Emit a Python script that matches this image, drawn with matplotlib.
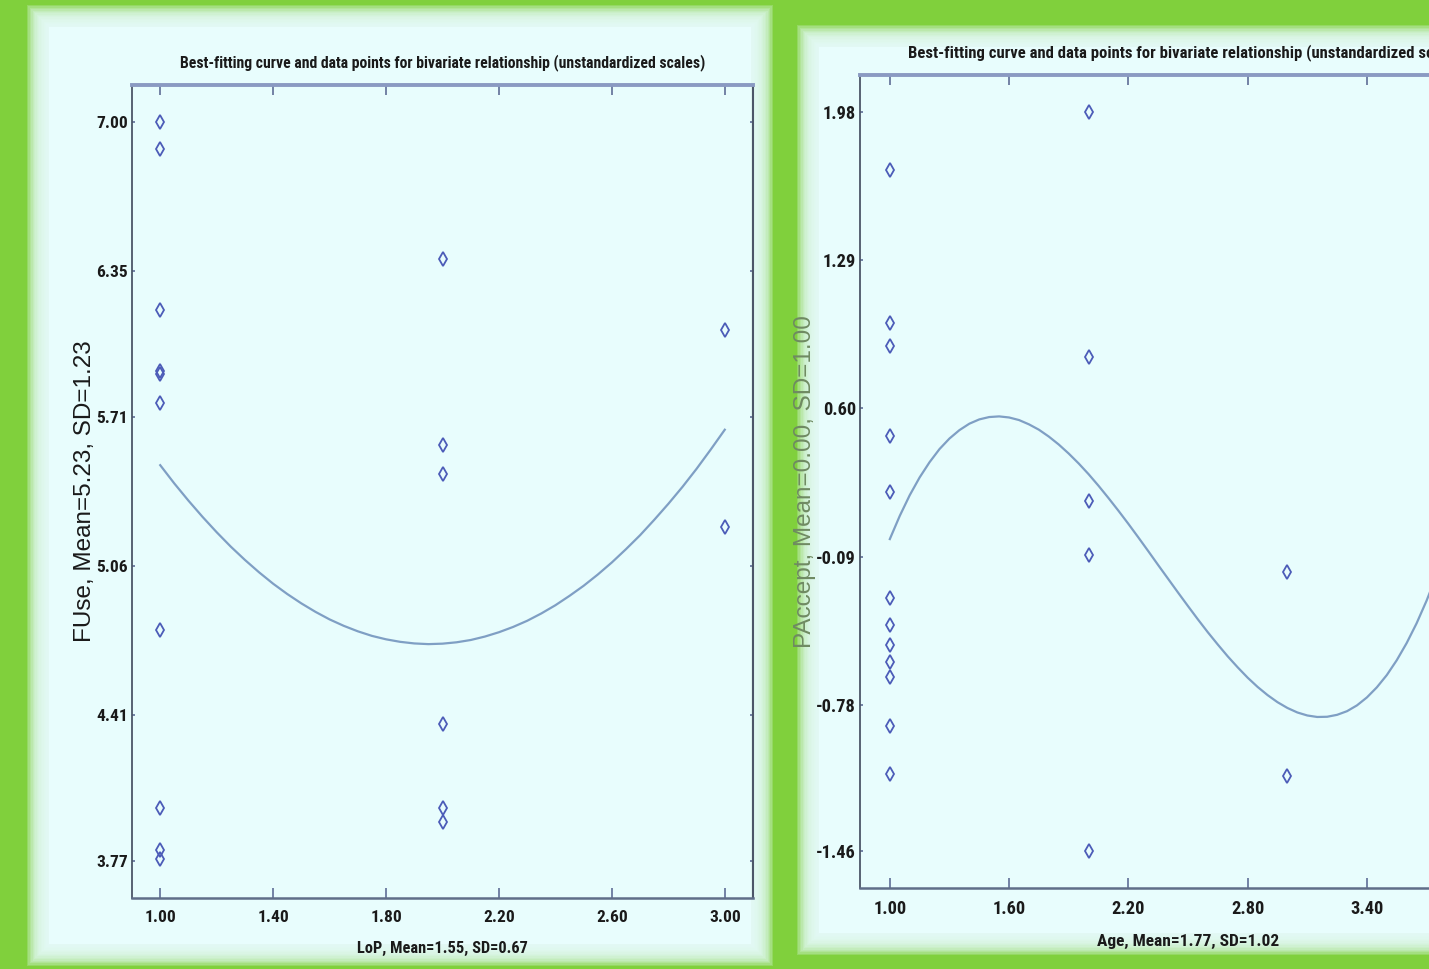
import numpy as np
import matplotlib
matplotlib.use("Agg")
import matplotlib.pyplot as plt
from matplotlib.patches import Rectangle

# ---- data ----
title_text = "Best-fitting curve and data points for bivariate relationship (unstandardized scales)"

# left panel: LoP vs FUse
lop = [1, 1, 1, 1, 1, 1, 1, 1, 1, 1,
       2, 2, 2, 2, 2, 2,
       3, 3]
fuse = [7.00, 6.88, 6.18, 5.91, 5.90, 5.77, 4.78, 4.00, 3.82, 3.78,
        6.40, 5.59, 5.46, 4.37, 4.00, 3.94,
        6.09, 5.23]
lop_curve_x = [1.00, 1.05, 1.10, 1.15, 1.20, 1.25, 1.30, 1.35, 1.40, 1.45,
               1.50, 1.55, 1.60, 1.65, 1.70, 1.75, 1.80, 1.85, 1.90, 1.95,
               2.00, 2.05, 2.10, 2.15, 2.20, 2.25, 2.30, 2.35, 2.40, 2.45,
               2.50, 2.55, 2.60, 2.65, 2.70, 2.75, 2.80, 2.85, 2.90, 2.95, 3.00]
fuse_curve = [5.500, 5.420, 5.345, 5.274, 5.207, 5.144, 5.086, 5.032, 4.982, 4.937,
              4.896, 4.859, 4.826, 4.798, 4.774, 4.754, 4.739, 4.728, 4.721, 4.718,
              4.720, 4.726, 4.736, 4.751, 4.770, 4.793, 4.820, 4.852, 4.888, 4.929,
              4.973, 5.022, 5.075, 5.133, 5.194, 5.261, 5.331, 5.405, 5.484, 5.568, 5.655]
lop_ticks = [1.00, 1.40, 1.80, 2.20, 2.60, 3.00]
fuse_ticks = [3.77, 4.41, 5.06, 5.71, 6.35, 7.00]

# right panel: Age vs PAccept
age = [1, 1, 1, 1, 1, 1, 1, 1, 1, 1, 1, 1,
       2, 2, 2, 2, 2,
       3, 3]
paccept = [1.71, 1.00, 0.89, 0.47, 0.21, -0.28, -0.41, -0.50, -0.58, -0.65, -0.88, -1.10,
           1.98, 0.84, 0.17, -0.08, -1.46,
           -0.16, -1.11]
age_curve_x = [1.00, 1.05, 1.10, 1.15, 1.20, 1.25, 1.30, 1.35, 1.40, 1.45,
               1.50, 1.55, 1.60, 1.65, 1.70, 1.75, 1.80, 1.85, 1.90, 1.95,
               2.00, 2.05, 2.10, 2.15, 2.20, 2.25, 2.30, 2.35, 2.40, 2.45,
               2.50, 2.55, 2.60, 2.65, 2.70, 2.75, 2.80, 2.85, 2.90, 2.95,
               3.00, 3.05, 3.10, 3.15, 3.20, 3.25, 3.30, 3.35, 3.40, 3.45,
               3.50, 3.55, 3.60, 3.65, 3.70, 3.75, 3.80, 3.85, 3.90, 3.95, 4.00]
paccept_curve = [-0.008, 0.100, 0.196, 0.279, 0.350, 0.411, 0.460, 0.499, 0.529, 0.549,
                 0.560, 0.563, 0.558, 0.546, 0.526, 0.501, 0.469, 0.432, 0.390, 0.344,
                 0.294, 0.240, 0.183, 0.124, 0.063, 0.000, -0.064, -0.129, -0.193, -0.257,
                 -0.320, -0.382, -0.442, -0.499, -0.554, -0.605, -0.653, -0.696, -0.734, -0.767,
                 -0.794, -0.815, -0.829, -0.836, -0.835, -0.826, -0.809, -0.782, -0.745, -0.698,
                 -0.641, -0.572, -0.492, -0.400, -0.295, -0.177, -0.045, 0.101, 0.261, 0.436, 0.624]
age_ticks = [1.00, 1.60, 2.20, 2.80, 3.40, 4.00]
paccept_ticks = [-1.46, -0.78, -0.09, 0.60, 1.29, 1.98]

W, H = 1429, 969
green = "#80d03c"
panel = "#e8fdfd"
plt.rcParams["font.family"] = ["Roboto Condensed", "Liberation Sans", "DejaVu Sans"]
plt.rcParams["axes.unicode_minus"] = False

fig = plt.figure(figsize=(W / 100, H / 100), dpi=100)
fig.patch.set_facecolor(green)


def soft_panel(x0, y0, x1, y1, blur=22, steps=16):
    # light box with a blurred edge, pixel coords (y from top)
    for i in range(steps + 1):
        g = blur / 2 - blur * i / steps
        a = 0.2 if i < steps else 1.0
        r = Rectangle(((x0 - g) / W, 1 - (y1 + g) / H),
                      (x1 - x0 + 2 * g) / W, (y1 - y0 + 2 * g) / H,
                      transform=fig.transFigure, facecolor=panel,
                      edgecolor="none", alpha=a, zorder=-10)
        fig.patches.append(r)


soft_panel(38, 16, 762, 955)
soft_panel(808, 36, 1500, 944)


def draw_panel(rect, xs, ys, cx, cy, xt, yt, xlabel, ylabel, ylab_color, k=1.0):
    # k: the right screenshot is a little wider than the left one
    ax = fig.add_axes(rect)
    ax.set_facecolor("none")
    ax.plot(cx, cy, color="#7f9fc4", lw=1.6, zorder=2)
    ax.plot(xs, ys, linestyle="none", marker="d", markersize=7.5,
            markerfacecolor="none", markeredgecolor="#4c5cb8",
            markeredgewidth=1.3, zorder=3)
    xm = (xt[-1] - xt[0]) * 0.05
    ym = (yt[-1] - yt[0]) * 0.05
    ax.set_xlim(xt[0] - xm, xt[-1] + xm)
    ax.set_ylim(yt[0] - ym, yt[-1] + ym)
    ax.set_xticks(xt)
    ax.set_xticklabels([f"{v:.2f}" for v in xt], fontweight="bold")
    ax.set_yticks(yt)
    ax.set_yticklabels([f"{v:.2f}" for v in yt], fontweight="bold")
    ax.tick_params(axis="x", direction="in", length=7, width=1.2,
                   color="#5e6e96", top=True, pad=9, labelsize=12.5 * k,
                   labelcolor="#1a1a1a")
    ax.tick_params(axis="y", direction="in", length=2.5, width=1.2,
                   color="#5e6e96", right=True, pad=3, labelsize=12.5 * k,
                   labelcolor="#1a1a1a")
    ax.spines["top"].set_color("#8a9ac2")
    ax.spines["top"].set_linewidth(2.8)
    ax.spines["bottom"].set_color("#5f6e88")
    ax.spines["bottom"].set_linewidth(1.8)
    ax.spines["left"].set_color("#4c5668")
    ax.spines["left"].set_linewidth(1.3)
    ax.spines["right"].set_color("#4c5668")
    ax.spines["right"].set_linewidth(1.5)
    ax.set_title(title_text, fontsize=11.3 * k, fontweight="bold", color="#1a1a1a", pad=13)
    ax.set_xlabel(xlabel, fontsize=11.8 * k, fontweight="bold", color="#1a1a1a", labelpad=11)
    ax.set_ylabel(ylabel, fontsize=17.5, color=ylab_color, labelpad=0,
                  family=["Liberation Sans", "DejaVu Sans"])
    return ax


draw_panel([132 / W, 1 - 898 / H, 621 / W, 813 / H],
           lop, fuse, lop_curve_x, fuse_curve, lop_ticks, fuse_ticks,
           "LoP, Mean=1.55, SD=0.67", "FUse, Mean=5.23, SD=1.23", "#1a1a1a")
draw_panel([860 / W, 1 - 888 / H, 656 / W, 813 / H],
           age, paccept, age_curve_x, paccept_curve, age_ticks, paccept_ticks,
           "Age, Mean=1.77, SD=1.02", "PAccept, Mean=0.00, SD=1.00", "#6f8a62", k=1.06)

fig.savefig("out.png", dpi=100, facecolor=fig.get_facecolor())
